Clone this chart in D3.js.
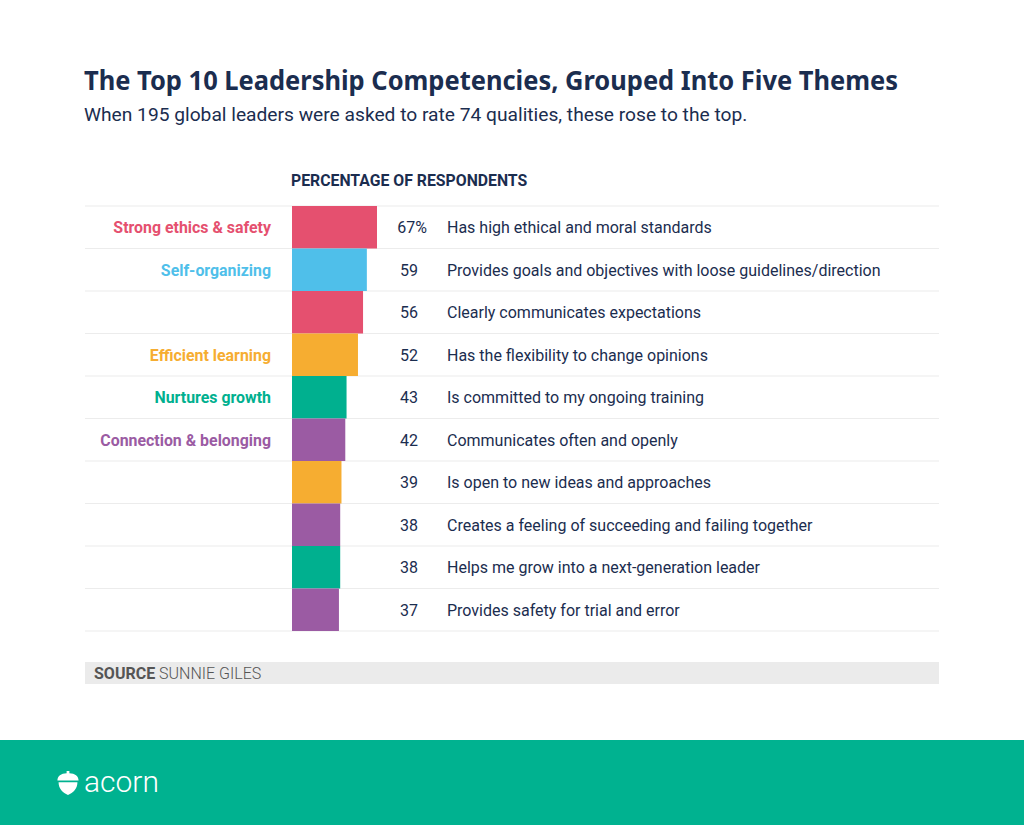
<!DOCTYPE html>
<html>
<head>
<meta charset="utf-8">
<script src="https://cdn.jsdelivr.net/npm/d3@7"></script>
<style>
  body { margin: 0; background: #fff; }
  svg { display: block; }
  text { font-family: Roboto, "Noto Sans", sans-serif; }
</style>
</head>
<body>
<div id="chart"></div>
<script>
// chart data
const competencies = [
  'Has high ethical and moral standards',
  'Provides goals and objectives with loose guidelines/direction',
  'Clearly communicates expectations',
  'Has the flexibility to change opinions',
  'Is committed to my ongoing training',
  'Communicates often and openly',
  'Is open to new ideas and approaches',
  'Creates a feeling of succeeding and failing together',
  'Helps me grow into a next-generation leader',
  'Provides safety for trial and error'
];
const percents = [67, 59, 56, 52, 43, 42, 39, 38, 38, 37];
const themeOf = ['ethics', 'self', 'ethics', 'learning', 'growth', 'connection', 'learning', 'connection', 'growth', 'connection'];
const themes = ['ethics', 'self', 'learning', 'growth', 'connection'];
const themeLabels = ['Strong ethics & safety', 'Self-organizing', 'Efficient learning', 'Nurtures growth', 'Connection & belonging'];
const themeColors = ['#e5506f', '#4fbfea', '#f6ad31', '#00b08f', '#9b5ba3'];

const W = 1024, H = 825;
const navy = '#1b2d4f';

const svg = d3.select('#chart').append('svg')
  .attr('width', W)
  .attr('height', H);

const color = d3.scaleOrdinal().domain(themes).range(themeColors);
const themeName = d3.scaleOrdinal().domain(themes).range(themeLabels);

const x = d3.scaleLinear().domain([0, 67]).range([292, 377]);
const y = d3.scaleBand().domain(d3.range(percents.length)).range([206, 631]).padding(0);
const mid = i => y(i) + y.bandwidth() / 2 + 6;

// titles
svg.append('text')
  .attr('x', 84).attr('y', 90)
  .attr('fill', navy)
  .style('font-family', '"Noto Sans", sans-serif')
  .style('font-weight', 700)
  .style('font-size', '26px')
  .attr('textLength', 814)
  .attr('lengthAdjust', 'spacingAndGlyphs')
  .text('The Top 10 Leadership Competencies, Grouped Into Five Themes');

svg.append('text')
  .attr('x', 84).attr('y', 121)
  .attr('fill', navy)
  .style('font-size', '19.2px')
  .text('When 195 global leaders were asked to rate 74 qualities, these rose to the top.');

svg.append('text')
  .attr('x', 291).attr('y', 186)
  .attr('fill', navy)
  .style('font-size', '15.8px')
  .style('font-weight', 700)
  .text('PERCENTAGE OF RESPONDENTS');

// grid lines
const rowEdges = d3.range(percents.length + 1).map(i => i < percents.length ? y(i) : y.range()[1]);
svg.append('g').selectAll('line')
  .data(rowEdges)
  .join('line')
  .attr('x1', 85).attr('x2', 939)
  .attr('y1', d => d).attr('y2', d => d)
  .attr('stroke', '#ececec')
  .attr('stroke-width', 1.2);

const rows = svg.append('g').selectAll('g')
  .data(percents)
  .join('g');

rows.append('rect')
  .attr('x', x(0))
  .attr('y', (d, i) => y(i))
  .attr('width', d => x(d) - x(0))
  .attr('height', y.bandwidth())
  .attr('fill', (d, i) => color(themeOf[i]));

rows.append('text')
  .attr('x', (d, i) => i === 0 ? 412 : 409)
  .attr('y', (d, i) => mid(i))
  .attr('text-anchor', 'middle')
  .attr('fill', navy)
  .style('font-size', '16px')
  .text((d, i) => i === 0 ? d + '%' : d);

rows.append('text')
  .attr('x', 447)
  .attr('y', (d, i) => mid(i))
  .attr('fill', navy)
  .style('font-size', '16px')
  .text((d, i) => competencies[i]);

// theme label on the first row of each theme
rows.filter((d, i) => themeOf.indexOf(themeOf[i]) === i)
  .append('text')
  .attr('x', 271)
  .attr('y', function () { return mid(rows.nodes().indexOf(this.parentNode)); })
  .attr('text-anchor', 'end')
  .attr('fill', function () { return color(themeOf[rows.nodes().indexOf(this.parentNode)]); })
  .style('font-size', '15.9px')
  .style('font-weight', 700)
  .text(function () { return themeName(themeOf[rows.nodes().indexOf(this.parentNode)]); });

// source
svg.append('rect')
  .attr('x', 85).attr('y', 662)
  .attr('width', 854).attr('height', 22)
  .attr('fill', '#ebebeb');
const src = svg.append('text')
  .attr('x', 94).attr('y', 679)
  .attr('fill', '#555')
  .style('font-size', '16px');
src.append('tspan').style('font-weight', 700).text('SOURCE');
src.append('tspan').style('font-weight', 300).text(' SUNNIE GILES');

// footer
svg.append('rect')
  .attr('x', 0).attr('y', 740)
  .attr('width', W).attr('height', H - 740)
  .attr('fill', '#00b290');

const logo = svg.append('g').attr('transform', 'translate(68,783) scale(1.15)');
logo.append('path')
  .attr('fill', '#fff')
  .attr('d', 'M-1.2,-10.5 L1.2,-10.5 L1.2,-8.5 C6,-8.3 9.2,-6 9.2,-2.2 L-9.2,-2.2 C-9.2,-6 -6,-8.3 -1.2,-8.5 Z M-8.2,-0.6 L8.2,-0.6 C8.2,5 4.5,8.5 0,10.5 C-4.5,8.5 -8.2,5 -8.2,-0.6 Z');
svg.append('text')
  .attr('x', 84).attr('y', 792)
  .attr('fill', '#fff')
  .style('font-size', '30px')
  .style('font-weight', 300)
  .text('acorn');
</script>
</body>
</html>
